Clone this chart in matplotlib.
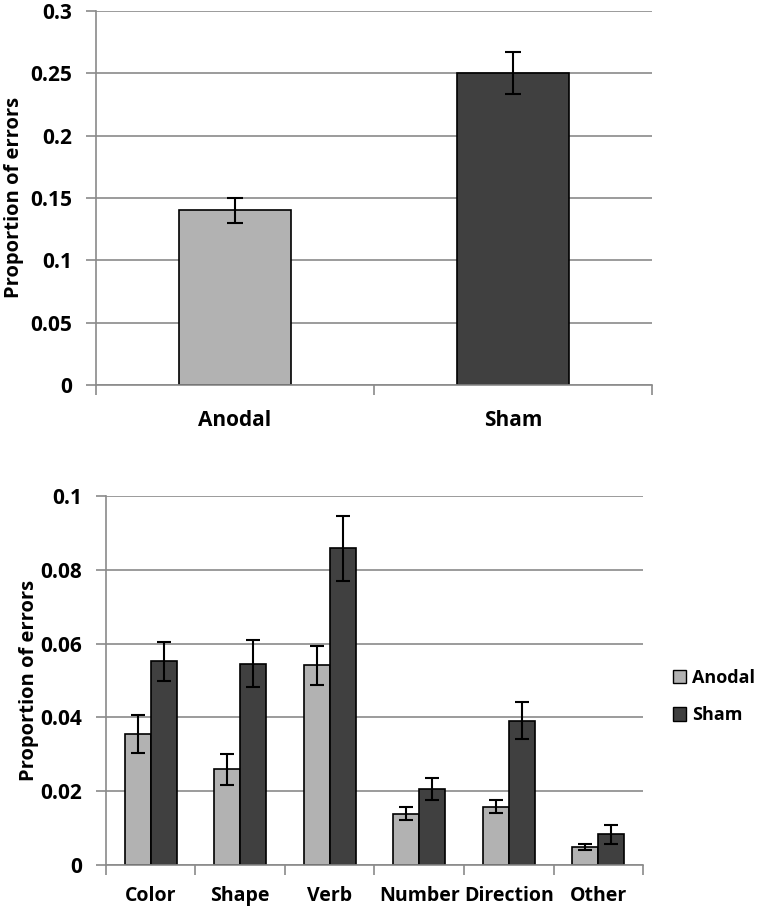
import numpy as np
import matplotlib
matplotlib.use("Agg")
import matplotlib.pyplot as plt
from matplotlib.patches import Patch

plt.rcParams['font.family'] = ['Open Sans', 'DejaVu Sans']
plt.rcParams['font.weight'] = 'bold'

# top panel: overall errors
groups = ['Anodal', 'Sham']
overall = [0.140, 0.250]
overall_err = [0.010, 0.017]

# bottom panel: error types
categories = ['Color', 'Shape', 'Verb', 'Number', 'Direction', 'Other']
anodal = [0.0355, 0.0259, 0.0541, 0.0139, 0.0158, 0.0050]
anodal_err = [0.0052, 0.0043, 0.0053, 0.0017, 0.0018, 0.0008]
sham = [0.0552, 0.0546, 0.0858, 0.0207, 0.0391, 0.0083]
sham_err = [0.0052, 0.0064, 0.0087, 0.0030, 0.0050, 0.0026]

c_anodal = '#b2b2b2'
c_sham = '#404040'
grid_c = '#8a8a8a'

fig = plt.figure(figsize=(7.61, 9.09), dpi=100)


def style_axes(ax, n, ymax, step, fmt):
    ax.set_xlim(0, n)
    ax.set_ylim(0, ymax)
    ax.set_yticks(np.arange(0, ymax + step / 2, step))
    ax.set_yticklabels([fmt(v) for v in np.arange(0, ymax + step / 2, step)])
    ax.yaxis.grid(True, color=grid_c, linewidth=1.2)
    ax.set_axisbelow(True)
    for s in ['top', 'right']:
        ax.spines[s].set_visible(False)
    for s in ['left', 'bottom']:
        ax.spines[s].set_color(grid_c)
        ax.spines[s].set_linewidth(1.2)
    # category boundaries as ticks, labels at centers
    ax.set_xticks(np.arange(0, n + 1))
    ax.set_xticklabels([])
    ax.tick_params(axis='x', which='major', direction='out', length=7,
                   color=grid_c, width=1.2)
    ax.tick_params(axis='y', direction='out', length=7, color=grid_c,
                   width=1.2, labelsize=15, pad=10)
    ax.set_ylabel('Proportion of errors', fontsize=14.5, fontweight='bold')


def fmt_num(v):
    s = f'{v:.2f}'.rstrip('0').rstrip('.')
    return s


# top panel
ax1 = fig.add_axes([0.126, 0.5765, 0.731, 0.4115])
x1 = np.arange(len(groups)) + 0.5
ax1.bar(x1, overall, width=0.4, color=[c_anodal, c_sham], edgecolor='black',
        linewidth=1.2, yerr=overall_err, capsize=6,
        error_kw=dict(elinewidth=1.5, capthick=1.5, ecolor='black'))
style_axes(ax1, len(groups), 0.3, 0.05, fmt_num)
ax1.set_xticks(x1, minor=True)
ax1.set_xticklabels(groups, minor=True, fontsize=15, fontweight='bold')
ax1.tick_params(axis='x', which='minor', length=0, pad=18)
ax1.yaxis.set_label_coords(-0.13, 0.5)

# bottom panel
ax2 = fig.add_axes([0.139, 0.0484, 0.706, 0.4059])
x2 = np.arange(len(categories)) + 0.5
w = 0.29
ekw = dict(elinewidth=1.5, capthick=1.5, ecolor='black')
ax2.bar(x2 - w / 2, anodal, width=w, color=c_anodal, edgecolor='black',
        linewidth=1.2, yerr=anodal_err, capsize=5, error_kw=ekw, label='Anodal')
ax2.bar(x2 + w / 2, sham, width=w, color=c_sham, edgecolor='black',
        linewidth=1.2, yerr=sham_err, capsize=5, error_kw=ekw, label='Sham')
style_axes(ax2, len(categories), 0.1, 0.02, fmt_num)
ax2.set_xticks(x2, minor=True)
ax2.set_xticklabels(categories, minor=True, fontsize=14, fontweight='bold')
ax2.tick_params(axis='x', which='minor', length=0, pad=15)
ax2.yaxis.set_label_coords(-0.125, 0.5)

handles = [Patch(facecolor=c_anodal, edgecolor='black', linewidth=1.0),
           Patch(facecolor=c_sham, edgecolor='black', linewidth=1.0)]
fig.legend(handles, ['Anodal', 'Sham'], loc='center left',
           bbox_to_anchor=(0.884, 0.2338), frameon=False,
           borderpad=0, borderaxespad=0,
           handlelength=0.75, handleheight=0.75, handletextpad=0.3,
           labelspacing=1.1, prop=dict(weight='bold', size=13))

fig.savefig('out.png', dpi=100)
